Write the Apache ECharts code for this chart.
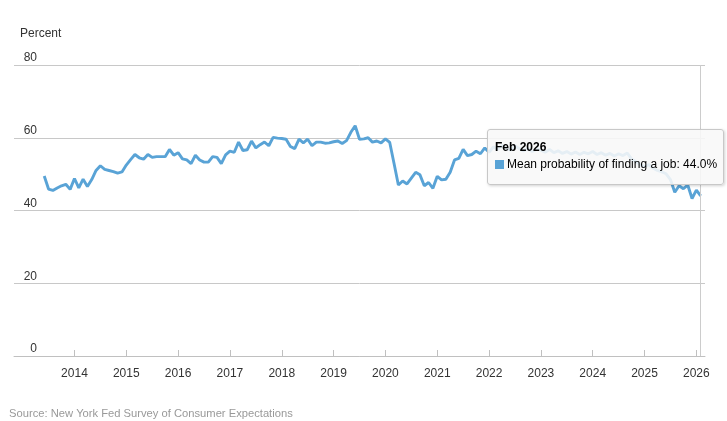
<!DOCTYPE html>
<html>
<head>
<meta charset="utf-8">
<script src="https://cdn.jsdelivr.net/npm/echarts@6/dist/echarts.min.js"></script>
<style>
  html, body { margin: 0; padding: 0; background: #fff; }
  #chart { width: 727px; height: 421px; }
</style>
</head>
<body>
<div id="chart"></div>
<script>
// First month of the series and its monthly values (percent)
const startYear = 2013, startMonth = 6; // June 2013
const seriesName = 'Mean probability of finding a job';
const values = [
  49.5, 45.9, 45.5, 46.2, 46.8, 47.2, 45.8,                 // 2013 Jun-Dec
  48.8, 46.2, 48.6, 46.6, 48.5, 51.0, 52.3, 51.3, 51.0, 50.7, 50.3, 50.6, // 2014
  52.5, 54.0, 55.4, 54.5, 54.1, 55.4, 54.6, 54.8, 54.8, 54.8, 56.8, 55.2, // 2015
  55.9, 54.2, 53.9, 52.9, 55.2, 53.9, 53.3, 53.3, 54.8, 54.6, 52.9, 55.3, // 2016
  56.3, 56.0, 58.8, 56.5, 56.7, 59.1, 57.2, 58.1, 58.8, 57.8, 60.1, 59.9, // 2017
  59.8, 59.6, 57.6, 57.0, 59.6, 58.6, 59.6, 57.8, 58.8, 58.8, 58.5, 58.6, // 2018
  58.9, 59.1, 58.4, 59.2, 61.5, 63.3, 59.6, 59.7, 60.0, 58.8, 59.1, 58.6, // 2019
  59.7, 58.7, 52.9, 47.0, 48.1, 47.3, 48.9, 50.5, 49.8, 46.8, 47.7, 46.1, // 2020
  49.4, 48.4, 48.6, 50.5, 53.9, 54.3, 56.8, 55.1, 55.4, 56.3, 55.6, 57.2, // 2021
  56.0, 57.5, 56.8, 57.9, 57.2, 56.6, 57.8, 57.0, 56.4, 57.1, 56.2, 56.9, // 2022
  56.6, 56.0, 56.8, 55.9, 56.4, 55.7, 56.2, 55.5, 56.1, 55.4, 56.0, 55.6, // 2023
  56.2, 55.4, 55.9, 55.2, 55.7, 55.0, 55.6, 55.1, 55.8, 54.2, 53.4, 52.6, // 2024
  52.1, 52.6, 51.6, 51.0, 50.6, 50.1, 48.5, 45.0, 46.8, 46.0, 47.0, 43.3, // 2025
  45.6, 44.0                                                 // 2026 Jan-Feb
];
const yTicks = [0, 20, 40, 60, 80];
const monthNames = ['Jan','Feb','Mar','Apr','May','Jun','Jul','Aug','Sep','Oct','Nov','Dec'];
// axis range extends a few months beyond the data on both sides
const padBefore = 7, padAfter = 1;

const categories = [];
const seriesData = [];
for (let i = -padBefore; i < values.length + padAfter; i++) {
  const d = new Date(startYear, startMonth - 1 + i, 1);
  categories.push(d.getFullYear() + '-' + String(d.getMonth() + 1).padStart(2, '0'));
  seriesData.push(i >= 0 && i < values.length ? values[i] : null);
}
function isJan(idx) { return categories[idx].slice(5) === '01' && categories[idx] >= '2014-01'; }
function fmtMonth(cat) {
  return monthNames[parseInt(cat.slice(5), 10) - 1] + ' ' + cat.slice(0, 4);
}

const lineColor = '#59a3d6';
const font = '"Liberation Sans", Arial, sans-serif';

const chart = echarts.init(document.getElementById('chart'), null, { renderer: 'canvas' });
chart.setOption({
  animation: false,
  backgroundColor: '#fff',
  textStyle: { fontFamily: font },
  title: [
    { text: 'Percent', left: 20, top: 28, padding: 0,
      textStyle: { fontSize: 12, fontWeight: 'normal', color: '#333', fontFamily: font } },
    { text: 'Source: New York Fed Survey of Consumer Expectations', left: 9, top: 408, padding: 0,
      textStyle: { fontSize: 11.2, fontWeight: 'normal', color: '#999', fontFamily: font } }
  ],
  grid: { left: 14, right: 22, top: 65, bottom: 65, containLabel: false },
  tooltip: {
    trigger: 'axis',
    triggerOn: 'none',
    alwaysShowContent: true,
    transitionDuration: 0,
    position: [487, 129],
    backgroundColor: 'rgba(248,248,248,0.88)',
    borderColor: '#c8c8c8',
    borderWidth: 1,
    borderRadius: 3,
    padding: [9, 6, 11, 7],
    extraCssText: 'box-shadow: 1px 1px 3px rgba(0,0,0,0.18);',
    axisPointer: { type: 'line', lineStyle: { color: '#cccccc', width: 1, type: 'solid' }, label: { show: false } },
    formatter: function (params) {
      const p = params[0];
      return '<div style="font-family:' + font.replace(/"/g, "'") + ';font-size:12px;color:#000;line-height:17px;">' +
        '<div style="font-weight:bold;font-size:12px;">' + fmtMonth(p.axisValue) + '</div>' +
        '<div><span style="display:inline-block;width:9px;height:9px;background:' + lineColor +
        ';margin-right:3px;vertical-align:-1px;"></span>' + p.seriesName + ': ' + p.value.toFixed(1) + '%</div></div>';
    }
  },
  xAxis: {
    type: 'category',
    data: categories,
    boundaryGap: false,
    axisLine: { show: true, lineStyle: { color: '#c0c0c0', width: 1 } },
    axisTick: { show: true, inside: true, length: 6, interval: function (i) { return isJan(i); },
      lineStyle: { color: '#c0c0c0' } },
    axisLabel: { interval: function (i) { return isJan(i); },
      formatter: function (v) { return v.slice(0, 4); },
      color: '#333', fontSize: 12, margin: 12, fontFamily: font },
    splitLine: { show: false }
  },
  yAxis: {
    type: 'value',
    min: 0, max: 80, interval: 20,
    axisLine: { show: false },
    axisTick: { show: false },
    axisLabel: {
      inside: true, margin: 23, align: 'right', verticalAlign: 'bottom',
      padding: [0, 0, 1, 0],
      color: '#333', fontSize: 12, fontFamily: font,
      formatter: function (v) { return yTicks.indexOf(v) >= 0 ? String(v) : ''; }
    },
    splitLine: { show: true, lineStyle: { color: '#c8c8c8', width: 1 } }
  },
  series: [{
    name: seriesName,
    type: 'line',
    data: seriesData,
    symbol: 'none',
    showSymbol: false,
    connectNulls: false,
    lineStyle: { color: lineColor, width: 2.9 },
    itemStyle: { color: lineColor },
    emphasis: { disabled: true }
  }]
});
chart.dispatchAction({ type: 'showTip', seriesIndex: 0, dataIndex: padBefore + values.length - 1 });
</script>
</body>
</html>
